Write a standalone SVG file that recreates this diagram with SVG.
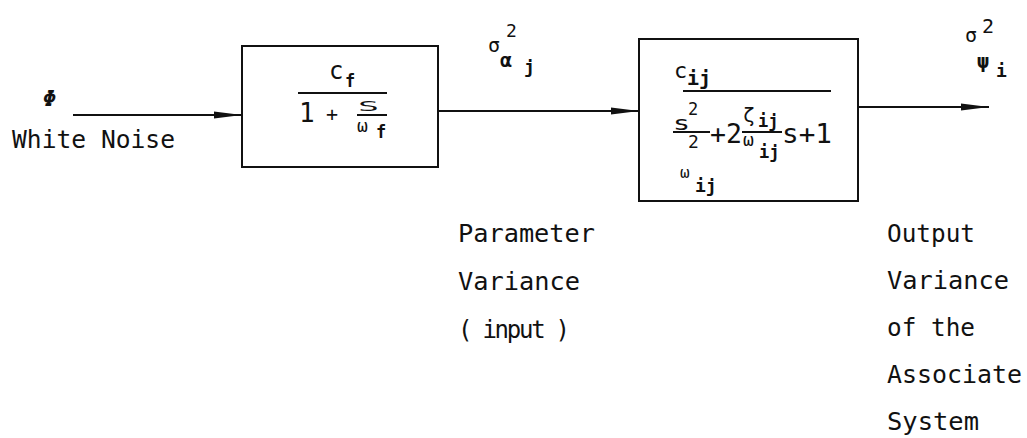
<svg xmlns="http://www.w3.org/2000/svg" width="1027" height="438" viewBox="0 0 1027 438">
<style>
text{font-family:"DejaVu Sans Mono","Liberation Mono",monospace;fill:#111}
.lbl{font-size:24px}
.box{fill:#fff;stroke:#111;stroke-width:2}
.frac{stroke:#111;stroke-width:2}
.conn{stroke:#111;stroke-width:2;fill:none}
</style>
<defs>
<marker id="arr" markerUnits="userSpaceOnUse" markerWidth="30" markerHeight="10" refX="28" refY="5" orient="auto">
<path d="M0,1.5 L28,5 L0,8.5 Z" fill="#111"/>
</marker>
</defs>
<rect width="1027" height="438" fill="#fff"/>
<g id="connectors">
<line class="conn" x1="73" y1="115" x2="242" y2="115" marker-end="url(#arr)"/>
<line class="conn" x1="438" y1="111" x2="639" y2="111" marker-end="url(#arr)"/>
<line class="conn" x1="858" y1="107" x2="989" y2="107" marker-end="url(#arr)"/>
</g>
<g id="input">
<text x="43" y="106" style="font-size:22px;font-style:italic;font-weight:bold">Φ</text>
<text class="lbl" x="12" y="148" textLength="163" lengthAdjust="spacingAndGlyphs">White Noise</text>
</g>
<g id="filter">
<rect class="box" x="242" y="46" width="196" height="121"/>
<text x="329" y="79" style="font-size:24px">c</text>
<text x="345" y="87" style="font-size:17px;font-weight:bold">f</text>
<line class="frac" x1="298" y1="93" x2="387" y2="93"/>
<text x="299" y="122" style="font-size:26px">1</text>
<text x="326" y="121" style="font-size:20px">+</text>
<text x="358" y="111" style="font-size:14px" textLength="21" lengthAdjust="spacingAndGlyphs">S</text>
<line class="frac" x1="357" y1="115" x2="387" y2="115"/>
<text x="357" y="132" style="font-size:18px">ω</text>
<text x="376" y="138" style="font-size:17px;font-weight:bold">f</text>
</g>
<g id="param-sigma">
<text x="488" y="52" style="font-size:20px">σ</text>
<text x="506" y="37" style="font-size:18px">2</text>
<text x="500" y="67" style="font-size:20px;font-weight:bold">α</text>
<text x="524" y="73" style="font-size:18px;font-weight:bold">j</text>
</g>
<g id="system">
<rect class="box" x="639" y="39" width="219" height="162"/>
<text x="674" y="78" style="font-size:22px">c</text>
<text x="687" y="85" style="font-size:20px;font-weight:bold">ij</text>
<line class="frac" x1="683" y1="91" x2="831" y2="91"/>
<text x="673" y="130" style="font-size:20px" textLength="17" lengthAdjust="spacingAndGlyphs">s</text>
<text x="688" y="115" style="font-size:17px">2</text>
<line class="frac" x1="673" y1="132" x2="710" y2="132"/>
<text x="688" y="148" style="font-size:18px">2</text>
<text x="710" y="143" style="font-size:27px" textLength="32" lengthAdjust="spacingAndGlyphs">+2</text>
<text x="743" y="122" style="font-size:20px">ζ</text>
<text x="758" y="127" style="font-size:17px;font-weight:bold">ij</text>
<line class="frac" x1="742" y1="132" x2="782" y2="132"/>
<text x="743" y="146" style="font-size:18px">ω</text>
<text x="759" y="158" style="font-size:17px;font-weight:bold">ij</text>
<text x="782" y="143" style="font-size:27px" textLength="50" lengthAdjust="spacingAndGlyphs">s+1</text>
<text x="680" y="178" style="font-size:16px">ω</text>
<text x="695" y="192" style="font-size:18px;font-weight:bold">ij</text>
</g>
<g id="output-sigma">
<text x="965" y="42" style="font-size:20px">σ</text>
<text x="982" y="33" style="font-size:20px">2</text>
<text x="977" y="68" style="font-size:20px;font-weight:bold">ψ</text>
<text x="996" y="77" style="font-size:18px;font-weight:bold">i</text>
</g>
<g id="param-label">
<text class="lbl" x="458" y="242" textLength="137" lengthAdjust="spacingAndGlyphs">Parameter</text>
<text class="lbl" x="458" y="290" textLength="122" lengthAdjust="spacingAndGlyphs">Variance</text>
<text class="lbl" x="458" y="338" textLength="112" lengthAdjust="spacing">( input )</text>
</g>
<g id="output-label">
<text class="lbl" x="887" y="242" textLength="88" lengthAdjust="spacingAndGlyphs">Output</text>
<text class="lbl" x="887" y="289" textLength="122" lengthAdjust="spacingAndGlyphs">Variance</text>
<text class="lbl" x="887" y="336" textLength="88" lengthAdjust="spacingAndGlyphs">of the</text>
<text class="lbl" x="887" y="383" textLength="135" lengthAdjust="spacingAndGlyphs">Associate</text>
<text class="lbl" x="887" y="430" textLength="92" lengthAdjust="spacingAndGlyphs">System</text>
</g>
</svg>
